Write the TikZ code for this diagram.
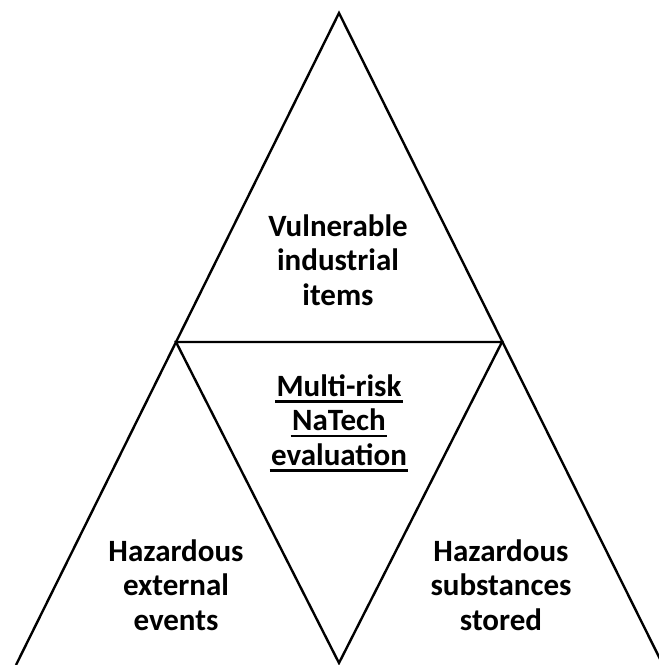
\documentclass[tikz,border=0pt]{standalone}
\usepackage{fontspec}
\setmainfont{Carlito}
\usepackage{tikz}

% thick underline, a bit wider than the word
\newcommand{\thickul}[1]{\leavevmode\setbox0\hbox{#1}\rlap{\hskip-1.5pt\raisebox{-6.5pt}{\rule{\dimexpr\wd0+3pt\relax}{2.6pt}}}\box0}

\tikzset{
	edge/.style={line width=2.4pt, line join=miter},
	lbl/.style={align=center, font=\fontsize{31}{34.5}\selectfont\bfseries}
}

\begin{document}
\begin{tikzpicture}[x=1pt,y=-1pt]
		\useasboundingbox (0,0) rectangle (659,665);
		
		\coordinate (apex) at (339,13);
		\coordinate (bl) at (16,665);
		\coordinate (br) at (663,665);
		\coordinate (ml) at (176,342);
		\coordinate (mr) at (502,342);
		\coordinate (mb) at (339,663);
		
		\draw[edge] (bl) -- (apex) -- (br);
		\draw[edge] (ml) -- (mr) -- (mb) -- cycle;
		
		\node[lbl] (vuln) at (338,260) {Vulnerable\\industrial\\items};
		\node[lbl] (natech) at (339,423) {\thickul{Multi-risk}\\\thickul{NaTech}\\\thickul{evaluation}};
		\node[lbl] (extev) at (176,585) {Hazardous\\external\\events};
		\node[lbl] (subst) at (501,585) {Hazardous\\substances\\stored};
	\end{tikzpicture}
\end{document}
